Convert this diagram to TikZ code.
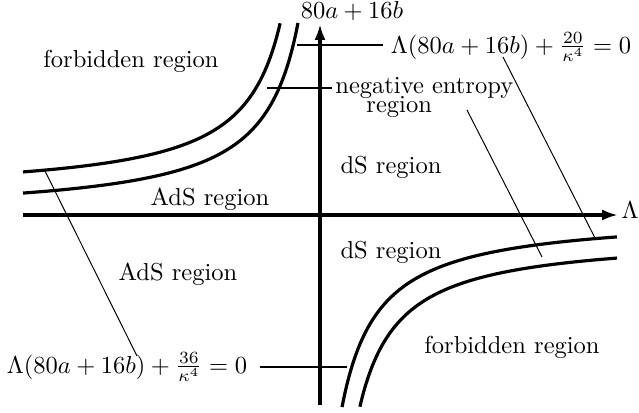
\documentclass[tikz,border=0pt]{standalone}
\usetikzlibrary{arrows.meta}
\begin{document}
\begin{tikzpicture}[x=0.408pt,y=-0.408pt,
  curve/.style={line width=1.3pt},
  leader/.style={line width=1.1pt},
  thinline/.style={line width=0.4pt},
  lbl/.style={inner sep=0pt, anchor=base},
  axisarrow/.style={line width=1.3pt, -{Latex[length=6.5pt,width=4.5pt]}}]
\useasboundingbox (0,0) rectangle (639,412);
% axes
\coordinate (O) at (320,215);
\coordinate (xs) at (23,215);
\coordinate (xe) at (618,215);
\coordinate (ys) at (320,405);
\coordinate (ye) at (320,24);
\draw[axisarrow] (xs) -- (xe);
\draw[axisarrow] (ys) -- (ye);
\node[lbl, anchor=base west] (lam) at (621,218) {$\Lambda$};
\node[lbl] (ab) at (352,18) {$80a+16b$};
% curves (upper left and point-reflected lower right)
\foreach \r in {0,180}{
  \begin{scope}[shift={(O)}, rotate=\r]
    \draw[curve] plot[domain=3.686:5.694, samples=70, smooth, variable=\t]
      ({-exp(\t)},{-(20+6850/exp(\t))});
    \draw[curve] plot[domain=3.093:5.694, samples=70, smooth, variable=\t]
      ({-exp(\t)},{-(-1+7150/(exp(\t)+15))});
  \end{scope}
}
% region labels
\node[lbl] (fbUL) at (131,67) {forbidden region};
\node[lbl] (adsU) at (210,205) {AdS region};
\node[lbl] (adsL) at (178,280) {AdS region};
\node[lbl] (dsU) at (391,173) {dS region};
\node[lbl] (dsL) at (391,258) {dS region};
\node[lbl] (fbLR) at (512,353) {forbidden region};
\node[lbl, inner xsep=1.2pt, anchor=base west] (neg) at (332,93) {negative entropy};
\node[lbl, anchor=base west] (negr) at (366,112) {region};
% equation labels
\node[lbl, inner xsep=3pt, anchor=base west] (eq20) at (383,53) {$\Lambda(80a+16b)+\frac{20}{\kappa^4}=0$};
\node[lbl, inner xsep=5pt, anchor=base east] (eq36) at (260,373) {$\Lambda(80a+16b)+\frac{36}{\kappa^4}=0$};
% leaders
\coordinate (t20) at (297,45);
\draw[leader] (t20) -- (t20 -| eq20.west);
\coordinate (tneg) at (267,88);
\draw[leader] (tneg) -- (tneg -| neg.west);
\coordinate (b36) at (347,367);
\draw[leader] (eq36.east |- b36) -- (b36);
% thin pointer lines
\coordinate (n1) at (467,110);
\coordinate (n2) at (542,257);
\draw[thinline] (n1) -- (n2);
\coordinate (e1) at (503,57);
\coordinate (e2) at (595,238);
\draw[thinline] (e1) -- (e2);
\coordinate (s1) at (45,171);
\coordinate (s2) at (137,356);
\draw[thinline] (s1) -- (s2);
\end{tikzpicture}
\end{document}
